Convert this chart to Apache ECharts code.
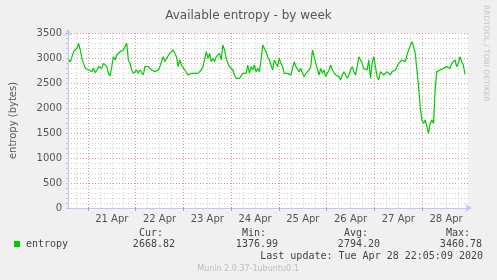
<!DOCTYPE html>
<html><head><meta charset="utf-8">
<script src="https://cdn.jsdelivr.net/npm/echarts@6/dist/echarts.min.js"></script>
<style>html,body{margin:0;padding:0;background:#f0f0f0}#c{width:497px;height:280px}</style>
</head><body><div id="c"></div>
<script>
// ---- data ----
const dayLabels = ['21 Apr', '22 Apr', '23 Apr', '24 Apr', '25 Apr', '26 Apr', '27 Apr', '28 Apr'];
const labelHours = [12, 36, 60, 84, 108, 132, 156, 180];          // noon of each day (hours since 21 Apr 00:00)
const dayStartHours = [0, 24, 48, 72, 96, 120, 144, 168];          // midnight lines
const sixHourLines = [-6, 6, 12, 18, 30, 36, 42, 54, 60, 66, 78, 84, 90, 102, 108, 114,
  126, 132, 138, 150, 156, 162, 174, 180, 186];
const yTicks = [0, 500, 1000, 1500, 2000, 2500, 3000, 3500];
const startHour = -9.667;   // first sample (hours since 21 Apr 00:00)
const stepHours = 0.8333;   // sample spacing
const entropy = [
  2973, 2920, 2960, 3127, 3093, 3200, 3293, 3160, 2993, 2893, 2800, 2760, 2760, 2773, 2727, 2793,
  2707, 2760, 2827, 2860, 2793, 2893, 2927, 2827, 2693, 2640, 2827, 3027, 2960, 3060, 3027, 3127,
  3093, 3160, 3127, 3293, 2960, 2893, 2760, 2693, 2727, 2760, 2693, 2760, 2793, 2660, 2827, 2860,
  2827, 2827, 2760, 2793, 2727, 2693, 2760, 2827, 2927, 3027, 2927, 2993, 3027, 3093, 3127, 3160,
  3093, 3027, 2827, 2960, 2860, 2893, 2760, 2727, 2660, 2627, 2693, 2727, 2693, 2727, 2693, 2727,
  2760, 2827, 2793, 3127, 2993, 3093, 2927, 2993, 2927, 3027, 3060, 3093, 2960, 3260, 3160, 2993,
  2893, 2827, 2860, 2760, 2660, 2593, 2560, 2593, 2627, 2693, 2727, 2693, 2860, 2693, 2827, 2760,
  2860, 2727, 2793, 2727, 2960, 3260, 3293, 3127, 3027, 2960,
  2927, 2760, 2960, 2893, 2827, 2993, 2893, 2827, 2693, 2727, 2693, 2660, 2660, 2693, 2927, 2827,
  2793, 2727, 2793, 2693, 2627, 2693, 2660, 2760, 2827, 3160, 3027, 2893, 2927, 2660, 2793, 2693,
  2760, 2627, 2693, 2760, 2860, 2760, 2727, 2660, 2660, 2627, 2560, 2660, 2727, 2693, 2593, 2660,
  2760, 2827, 2727, 2660, 2827, 3027, 3060, 2893, 2793, 2827, 2760, 2960, 2593, 2893, 3027, 2993,
  2627, 2560, 2727, 2693, 2660, 2627, 2727, 2693, 2660, 2727, 2693, 2760, 2827, 2893, 2927, 2960,
  2993, 2927, 3060, 3160, 3127, 3327, 3227, 3093, 3060, 2427, 2027, 1760, 1693, 1760, 1627, 1493,
  1693, 1760, 1693, 2360, 2727, 2693, 2760, 2727, 2793, 2760, 2827, 2860, 2793, 2893, 2893, 2960,
  2827, 2893, 3027, 2927, 2860, 2670
];
const statNames = ['Cur:', 'Min:', 'Avg:', 'Max:'];
const statValues = ['2668.82', '1376.99', '2794.20', '3460.78'];
const seriesName = 'entropy';
const lastUpdate = 'Last update: Tue Apr 28 22:05:09 2020';
const footer = 'Munin 2.0.37-1ubuntu0.1';
const sideText = 'RRDTOOL / TOBI OETIKER';

// ---- chart ----
const points = entropy.map((v, i) => [startHour + i * stepHours, v]);
const chart = echarts.init(document.getElementById('c'), null, {renderer: 'canvas'});
const sans = 'DejaVu Sans';
const mono = 'DejaVu Sans Mono';
const axisBlue = '#c4c4fa';
const majorStyle = {color: 'rgba(222,110,110,0.75)', width: 1, type: [1, 2]};
const minorStyle = {color: '#cfcfcf', width: 1, type: [1, 2]};

const statRight = [163, 266, 368, 470];
const valRight = [175, 278, 380, 482];
const graphics = [
  {type: 'rect', shape: {x: 14, y: 241, width: 6, height: 6}, style: {fill: '#00cc00'}},
  {type: 'text', x: 26, y: 244, style: {text: seriesName, font: '10px ' + mono, fill: '#444', textVerticalAlign: 'middle'}},
  {type: 'text', x: 483, y: 256, style: {text: lastUpdate, font: '10px ' + mono, fill: '#444', textAlign: 'right', textVerticalAlign: 'middle'}},
  {type: 'text', x: 248, y: 269, style: {text: footer, font: '8px ' + sans, fill: '#bdbdbd', textAlign: 'center', textVerticalAlign: 'middle'}},
  {type: 'text', x: 486, y: 5, rotation: -Math.PI / 2, style: {text: sideText, font: '7.5px ' + sans, fill: '#c4c4c4', textAlign: 'left', textVerticalAlign: 'middle'}}
];
statNames.forEach((n, i) => {
  graphics.push({type: 'text', x: statRight[i], y: 233, style: {text: n, font: '10px ' + mono, fill: '#444', textAlign: 'right', textVerticalAlign: 'middle'}});
  graphics.push({type: 'text', x: valRight[i], y: 244, style: {text: statValues[i], font: '10px ' + mono, fill: '#444', textAlign: 'right', textVerticalAlign: 'middle'}});
});

chart.setOption({
  backgroundColor: '#f0f0f0',
  animation: false,
  title: {
    text: 'Available entropy - by week', left: 'center', top: 5,
    textStyle: {fontFamily: sans, fontSize: 12, fontWeight: 'normal', color: '#555'}
  },
  grid: {left: 66, right: 29, top: 33, bottom: 72, show: true, backgroundColor: '#ffffff', borderWidth: 0},
  xAxis: [
    {
      type: 'value', min: -10, max: 191, position: 'bottom', z: 3,
      axisLine: {show: true, onZero: false, lineStyle: {color: axisBlue, width: 1}, symbol: ['none', 'arrow'], symbolSize: [6, 7], symbolOffset: [0, 4]},
      axisTick: {show: true, length: 3, customValues: dayStartHours, lineStyle: {color: 'rgba(222,110,110,0.75)'}},
      axisLabel: {
        customValues: labelHours, margin: 6, color: '#555', fontFamily: sans, fontSize: 10,
        formatter: v => dayLabels[labelHours.indexOf(Math.round(v))] || ''
      },
      splitLine: {show: true, lineStyle: majorStyle}
    },
    {
      type: 'value', min: -10, max: 191, position: 'top', z: 1,
      axisLine: {show: false, onZero: false},
      axisTick: {show: false, customValues: sixHourLines},
      axisLabel: {show: false},
      splitLine: {show: true, lineStyle: minorStyle}
    }
  ],
  yAxis: {
    type: 'value', min: 0, max: 3500, interval: 500, position: 'left',
    name: 'entropy (bytes)', nameLocation: 'middle', nameGap: 50, nameRotate: 90,
    nameTextStyle: {fontFamily: sans, fontSize: 10, color: '#555'},
    axisLine: {show: true, onZero: false, lineStyle: {color: axisBlue, width: 1}, symbol: ['none', 'arrow'], symbolSize: [6, 7], symbolOffset: [0, 4]},
    axisTick: {show: true, length: 2, lineStyle: {color: axisBlue}},
    minorTick: {show: true, splitNumber: 5, length: 2, lineStyle: {color: axisBlue}},
    axisLabel: {margin: 6, color: '#555', fontFamily: sans, fontSize: 10, formatter: v => String(v), customValues: yTicks},
    splitLine: {show: true, lineStyle: majorStyle},
    minorSplitLine: {show: true, lineStyle: minorStyle}
  },
  series: [{
    type: 'line', name: seriesName, data: points, xAxisIndex: 0,
    symbol: 'none', lineStyle: {color: '#00cc00', width: 1.2}, z: 5
  }],
  graphic: graphics
});
</script></body></html>
